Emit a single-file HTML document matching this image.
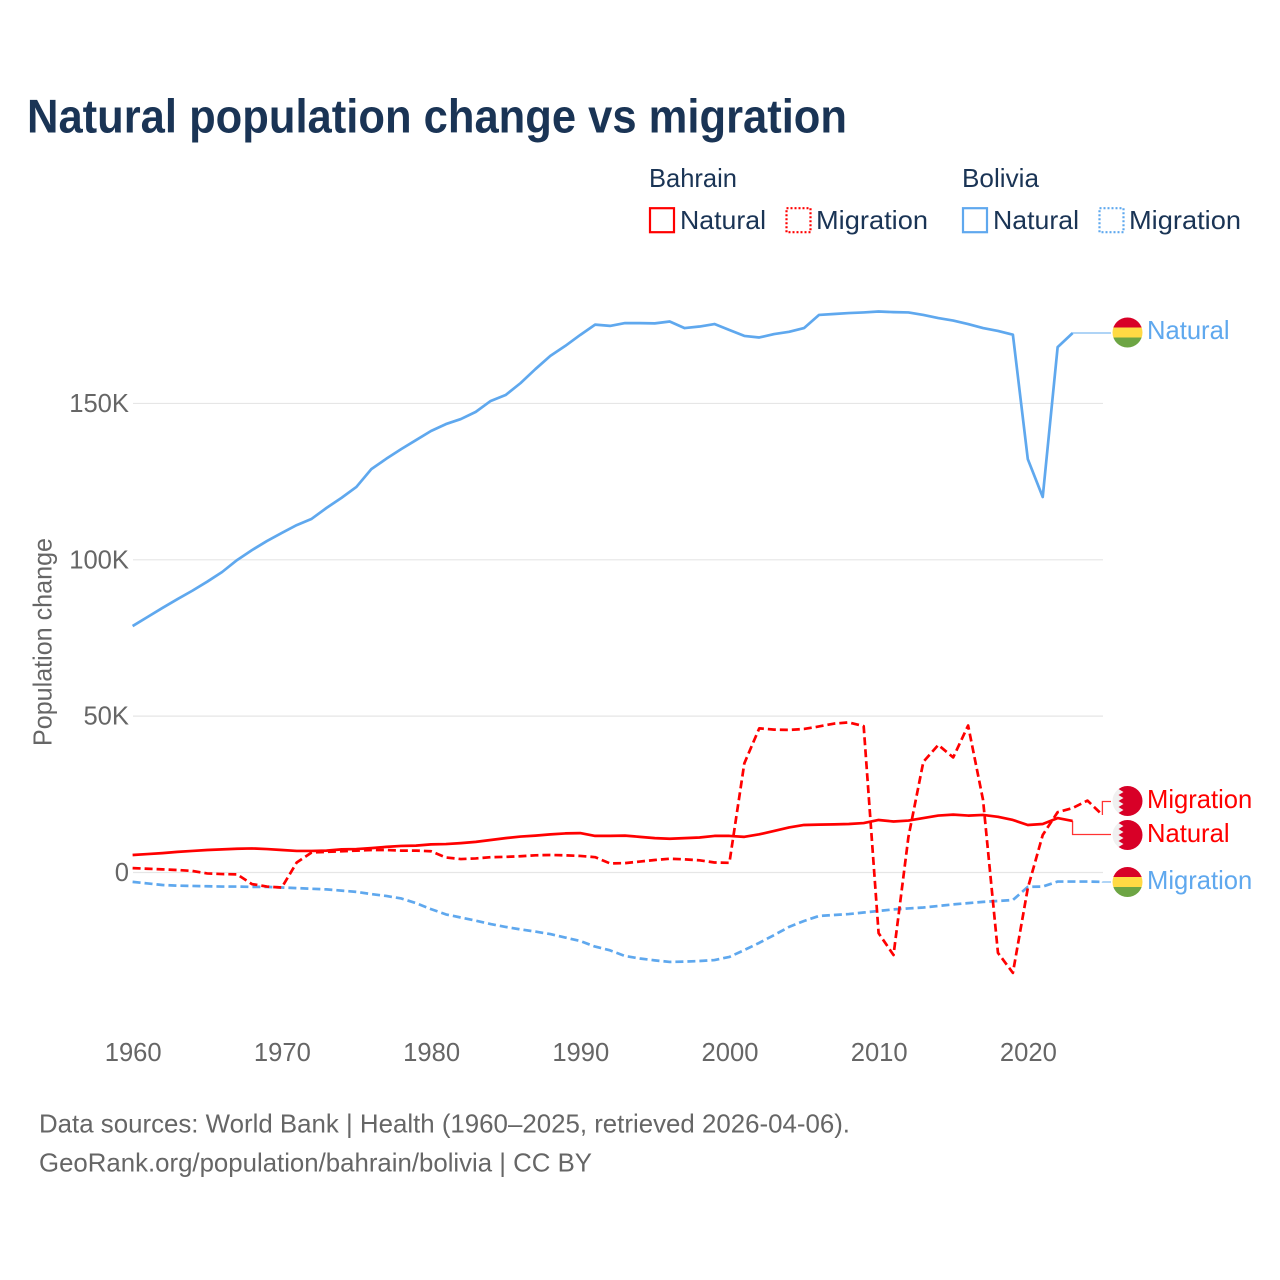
<!DOCTYPE html>
<html lang="en">
<head>
<meta charset="utf-8">
<title>Natural population change vs migration</title>
<style>
html,body{margin:0;padding:0;background:#fff;}
#chart{display:block;width:1280px;height:1280px;font-family:"Liberation Sans",Arial,sans-serif;}
.navy{fill:#1a3455;}
.gray{fill:#666666;}
.t{font-size:25.6px;}
</style>
</head>
<body>
<svg id="chart" xmlns="http://www.w3.org/2000/svg" width="1280" height="1280" viewBox="0 0 1280 1280">
  <rect x="0" y="0" width="1280" height="1280" fill="#ffffff"/>
  <text class="navy" x="27" y="132.7" font-size="47.5" font-weight="700" textLength="820" lengthAdjust="spacingAndGlyphs">Natural population change vs migration</text>

  <g>
    <text class="navy t" x="649" y="187" textLength="88" lengthAdjust="spacingAndGlyphs">Bahrain</text>
    <text class="navy t" x="962" y="187" textLength="77" lengthAdjust="spacingAndGlyphs">Bolivia</text>
    <rect x="650" y="208.2" width="24" height="24" fill="none" stroke="#ff0000" stroke-width="2.2"/>
    <text class="navy t" x="680" y="229" textLength="86" lengthAdjust="spacingAndGlyphs">Natural</text>
    <rect x="786.5" y="208.2" width="24" height="24" fill="none" stroke="#ff0000" stroke-width="2.2" stroke-dasharray="2 2"/>
    <text class="navy t" x="816" y="229" textLength="112" lengthAdjust="spacingAndGlyphs">Migration</text>
    <rect x="963" y="208.2" width="24" height="24" fill="none" stroke="#5fa8ee" stroke-width="2.2"/>
    <text class="navy t" x="993" y="229" textLength="86" lengthAdjust="spacingAndGlyphs">Natural</text>
    <rect x="1099.5" y="208.2" width="24" height="24" fill="none" stroke="#5fa8ee" stroke-width="2.2" stroke-dasharray="2 2"/>
    <text class="navy t" x="1129" y="229" textLength="112" lengthAdjust="spacingAndGlyphs">Migration</text>
  </g>

  <text class="gray t" transform="translate(51.5,746) rotate(-90)" x="0" y="0" textLength="208" lengthAdjust="spacingAndGlyphs">Population change</text>

  <g id="grid"></g>
  <g id="yticks"></g>
  <g id="xticks"></g>
  <g id="series"></g>
  <g id="endlabels"></g>

  <text class="gray t" x="39" y="1132.5" textLength="811" lengthAdjust="spacingAndGlyphs">Data sources: World Bank | Health (1960–2025, retrieved 2026-04-06).</text>
  <text class="gray t" x="39" y="1171.5" textLength="553" lengthAdjust="spacingAndGlyphs">GeoRank.org/population/bahrain/bolivia | CC BY</text>
</svg>
<script>
const years = [1960,1961,1962,1963,1964,1965,1966,1967,1968,1969,1970,1971,1972,1973,1974,1975,1976,1977,1978,1979,1980,1981,1982,1983,1984,1985,1986,1987,1988,1989,1990,1991,1992,1993,1994,1995,1996,1997,1998,1999,2000,2001,2002,2003,2004,2005,2006,2007,2008,2009,2010,2011,2012,2013,2014,2015,2016,2017,2018,2019,2020,2021,2022,2023,2024,2025];
const xTickYears = [1960,1970,1980,1990,2000,2010,2020];
const yTickValues = [0,50,100,150];
const yTickLabels = ['0','50K','100K','150K'];

const boliviaNatural = [78.8,81.7,84.6,87.4,90.1,93.0,96.1,99.9,103.1,106.0,108.6,111.1,113.1,116.6,119.8,123.3,129.0,132.3,135.4,138.3,141.2,143.4,145.0,147.3,150.8,152.7,156.5,161.0,165.2,168.4,171.9,175.2,174.8,175.7,175.7,175.6,176.2,174.1,174.6,175.4,173.5,171.6,171.1,172.2,172.9,174.1,178.3,178.6,178.9,179.1,179.4,179.2,179.1,178.3,177.3,176.5,175.4,174.1,173.2,172.0,132.2,120.1,168.0,172.5];
const boliviaMigration = [-3.0,-3.5,-4.0,-4.2,-4.3,-4.4,-4.5,-4.5,-4.6,-4.6,-4.8,-5.0,-5.2,-5.4,-5.8,-6.2,-6.9,-7.5,-8.3,-9.8,-11.7,-13.4,-14.4,-15.4,-16.5,-17.4,-18.2,-18.9,-19.7,-20.8,-21.9,-23.7,-24.9,-26.7,-27.5,-28.1,-28.6,-28.5,-28.3,-28.0,-27.0,-24.8,-22.5,-20.0,-17.4,-15.5,-13.9,-13.6,-13.3,-12.8,-12.3,-11.8,-11.5,-11.2,-10.7,-10.2,-9.8,-9.4,-9.1,-8.8,-4.6,-4.5,-2.9,-2.9,-2.9,-3.0];
const bahrainNatural = [5.6,5.9,6.2,6.6,6.9,7.2,7.4,7.6,7.7,7.5,7.2,6.9,6.9,7.0,7.4,7.5,7.8,8.2,8.5,8.6,9.0,9.1,9.4,9.8,10.4,11.0,11.5,11.8,12.2,12.5,12.6,11.7,11.7,11.8,11.4,11.0,10.8,11.0,11.2,11.7,11.7,11.4,12.2,13.3,14.4,15.2,15.3,15.4,15.5,15.8,16.8,16.3,16.6,17.4,18.2,18.5,18.2,18.4,17.8,16.8,15.2,15.5,17.4,16.5];
const bahrainMigration = [1.4,1.2,1.0,0.8,0.5,-0.3,-0.5,-0.6,-3.7,-4.5,-4.8,3.2,6.4,6.6,6.8,7.0,7.2,7.2,7.0,7.0,6.8,4.8,4.3,4.5,4.9,5.0,5.2,5.5,5.6,5.5,5.3,4.9,2.9,3.0,3.5,4.0,4.4,4.2,3.9,3.2,3.1,34.9,46.1,45.7,45.6,45.9,46.7,47.6,48.0,46.8,-19.4,-26.4,11.4,35.4,40.8,36.8,47.0,23.2,-25.7,-32.1,-5.0,12.0,19.3,20.6,23.0,18.4];

const SVG_NS = 'http://www.w3.org/2000/svg';
const RED = '#ff0000';
const BLUE = '#5fa8ee';

function xScale(year) { return 132.6 + (year - 1960) * 14.92; }
function yScale(k) { return 872.5 - k * 3.127; }

function make(tag, attrs, parent) {
  const el = document.createElementNS(SVG_NS, tag);
  for (const k in attrs) el.setAttribute(k, attrs[k]);
  parent.appendChild(el);
  return el;
}

const gridG = document.getElementById('grid');
const yG = document.getElementById('yticks');
const xG = document.getElementById('xticks');
const seriesG = document.getElementById('series');
const labelG = document.getElementById('endlabels');

yTickValues.forEach(function (v, i) {
  const line = make('line', {x1: 133, x2: 1103, y1: yScale(v), y2: yScale(v), stroke: '#e6e6e6', 'stroke-width': 1.2}, gridG);
  
  
  const t = make('text', {x: 129, y: yScale(v) + 8.5, 'text-anchor': 'end', class: 'gray t'}, yG);
  t.textContent = yTickLabels[i];
  
  
});

xTickYears.forEach(function (yr) {
  const t = make('text', {x: xScale(yr) + 0.6, y: 1061, 'text-anchor': 'middle', class: 'gray t'}, xG);
  t.textContent = String(yr);
  
  
});

function seriesPoints(values) {
  return values.map(function (v, i) { return xScale(years[i]).toFixed(2) + ',' + yScale(v).toFixed(2); }).join(' ');
}

function drawSeries(values, color, dashed) {
  const attrs = {points: seriesPoints(values), fill: 'none', stroke: color, 'stroke-width': 2.7, 'stroke-linejoin': 'round'};
  if (dashed) attrs['stroke-dasharray'] = '8 4';
  return make('polyline', attrs, seriesG);
}

function drawConnector(values, color, labelY) {
  const i = values.length - 1;
  const x0 = xScale(years[i]);
  const y0 = yScale(values[i]);
  return make('polyline', {points: x0 + ',' + y0 + ' ' + x0 + ',' + labelY + ' 1111,' + labelY, fill: 'none', stroke: color, 'stroke-width': 1.3, opacity: 0.8}, seriesG);
}

const lineBN = drawSeries(boliviaNatural, BLUE, false);


const lineBM = drawSeries(boliviaMigration, BLUE, true);


const lineHN = drawSeries(bahrainNatural, RED, false);


const lineHM = drawSeries(bahrainMigration, RED, true);



const connBN = drawConnector(boliviaNatural, BLUE, 333);


const connBM = drawConnector(boliviaMigration, BLUE, 882);


const connHN = drawConnector(bahrainNatural, RED, 834.5);


const connHM = drawConnector(bahrainMigration, RED, 801.5);



let clipCount = 0;
function boliviaFlag(cy) {
  const g = make('g', {}, labelG);
  const id = 'flagclip' + (clipCount++);
  const clip = make('clipPath', {id: id}, g);
  make('circle', {cx: 1127.5, cy: cy, r: 15}, clip);
  const bands = make('g', {'clip-path': 'url(#' + id + ')'}, g);
  make('rect', {x: 1112, y: cy - 16, width: 31, height: 11, fill: '#d80027'}, bands);
  make('rect', {x: 1112, y: cy - 5, width: 31, height: 10, fill: '#ffda44'}, bands);
  make('rect', {x: 1112, y: cy + 5, width: 31, height: 11, fill: '#6da544'}, bands);
  return g;
}
function bahrainFlag(cy) {
  const g = make('g', {}, labelG);
  const id = 'flagclip' + (clipCount++);
  const clip = make('clipPath', {id: id}, g);
  make('circle', {cx: 1127.5, cy: cy, r: 15}, clip);
  const bands = make('g', {'clip-path': 'url(#' + id + ')'}, g);
  make('rect', {x: 1112, y: cy - 16, width: 31, height: 32, fill: '#f0f0f0'}, bands);
  let pts = '1144,' + (cy - 16) + ' 1118.5,' + (cy - 16) + ' ';
  for (let k = 0; k < 5; k++) {
    const top = cy - 15 + k * 6;
    pts += '1123.5,' + top + ' 1118.5,' + (top + 3) + ' ';
  }
  pts += '1123.5,' + (cy + 15) + ' 1118.5,' + (cy + 16) + ' 1144,' + (cy + 16);
  make('polygon', {points: pts, fill: '#d80027'}, bands);
  return g;
}
function endLabel(text, y, color) {
  const t = make('text', {x: 1147, y: y, fill: color, class: 't'}, labelG);
  t.textContent = text;
  return t;
}

const flag1 = boliviaFlag(332.5);


const lab1 = endLabel('Natural', 339, BLUE);



const flag2 = bahrainFlag(801);


const lab2 = endLabel('Migration', 808, RED);



const flag3 = bahrainFlag(835);


const lab3 = endLabel('Natural', 842, RED);



const flag4 = boliviaFlag(882);


const lab4 = endLabel('Migration', 889, BLUE);


</script>
</body>
</html>
